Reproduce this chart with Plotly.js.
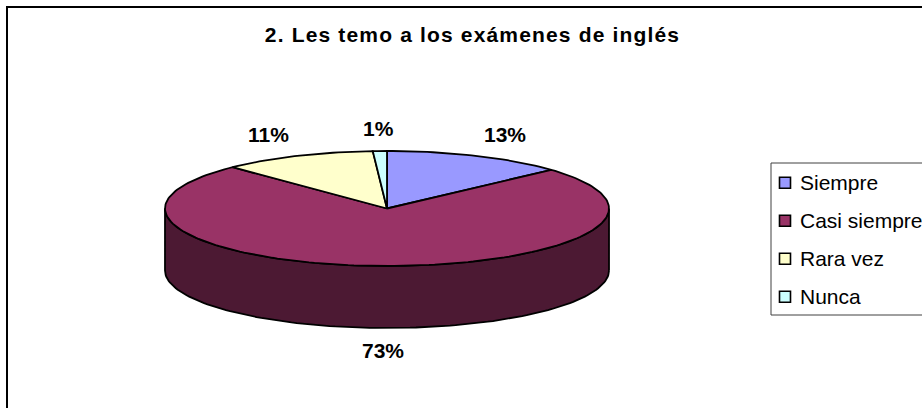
<!DOCTYPE html>
<html><head><meta charset="utf-8">
<script src="https://cdn.plot.ly/plotly-3.0.1.min.js"></script>
<style>html,body{margin:0;padding:0;background:#fff;overflow:hidden}
.gtitle{letter-spacing:1.16px}</style>
</head><body><div id="chart" style="width:922px;height:408px"></div>
<script>
const categories = ["Siempre", "Casi siempre", "Rara vez", "Nunca"];
const values = [13, 73, 11, 1];
const percentLabels = ["13%", "73%", "11%", "1%"];
const topColors = ["#9999FF", "#993366", "#FFFFCC", "#CCFFFF"];
const sideColors = ["#4C4C80", "#4C1933", "#808066", "#668080"];

const W = 922, H = 408;
const cx = 387, cy = 208.5, rx = 222, ry = 57.5, depth = 62;
const total = values.reduce((a, b) => a + b, 0);
const ex = d => cx + rx * Math.sin(d * Math.PI / 180);
const ey = d => cy - ry * Math.cos(d * Math.PI / 180);

function arc(a, b) {
  const n = Math.max(2, Math.ceil((b - a) / 1.5)), out = [];
  for (let i = 0; i <= n; i++) out.push(a + (b - a) * i / n);
  return out;
}
const traces = [];
const common = {type: "scatter", mode: "lines", fill: "toself", hoverinfo: "skip", showlegend: false, line: {color: "#000", width: 1.8}};

let acc = 0;
const spans = values.map(v => { const s = [acc, acc + v / total * 360]; acc = s[1]; return s; });

spans.forEach((s, i) => {
  const a = Math.max(s[0], 90), b = Math.min(s[1], 270);
  if (b <= a) return;
  const deg = arc(a, b);
  const xs = deg.map(ex).concat(deg.slice().reverse().map(ex));
  const ys = deg.map(d => ey(d) + depth).concat(deg.slice().reverse().map(ey));
  xs.push(xs[0]); ys.push(ys[0]);
  traces.push({...common, x: xs, y: ys, fillcolor: sideColors[i]});
});
spans.forEach((s, i) => {
  const deg = arc(s[0], s[1]);
  traces.push({...common, name: categories[i], fillcolor: topColors[i],
    x: [cx].concat(deg.map(ex), [cx]), y: [cy].concat(deg.map(ey), [cy])});
});
const legX = 785, legTop = 182.7, legStep = 38;
traces.push({type: "scatter", mode: "markers", hoverinfo: "skip", showlegend: false,
  x: categories.map(() => legX), y: categories.map((c, i) => legTop + i * legStep),
  marker: {symbol: "square", size: 11, color: topColors, line: {color: "#000", width: 1.6}}});

const labelPos = [[505, 134], [383, 350], [268, 134], [378, 128]];
const annotations = percentLabels.map((t, i) => ({
  text: "<b>" + t + "</b>", x: labelPos[i][0], y: labelPos[i][1], xref: "x", yref: "y",
  showarrow: false, xanchor: "center", yanchor: "middle",
  font: {family: "Liberation Sans, Arial, sans-serif", size: 21, color: "#000"}
})).concat(categories.map((c, i) => ({
  text: c, x: 798, y: legTop + i * legStep, xref: "x", yref: "y", showarrow: false,
  xanchor: "left", yanchor: "middle",
  font: {family: "Liberation Sans, Arial, sans-serif", size: 21, color: "#000"}
})));

const hidden = {visible: false, fixedrange: true};
const layout = {
  width: W, height: H, margin: {l: 0, r: 0, t: 0, b: 0},
  paper_bgcolor: "#fff", plot_bgcolor: "#fff", showlegend: false,
  title: {text: "<b>2. Les temo a los exámenes de inglés</b>", x: 472.5 / W, xanchor: "center", y: 1 - 35 / H, yanchor: "middle",
    font: {family: "Liberation Sans, Arial, sans-serif", size: 21, color: "#000"}},
  xaxis: {...hidden, range: [0, W]},
  yaxis: {...hidden, range: [H, 0]},
  annotations,
  shapes: [
    {type: "rect", xref: "x", yref: "y", x0: 7, y0: 7, x1: W + 10, y1: H + 10, line: {color: "#000", width: 2}, layer: "below"},
    {type: "rect", xref: "x", yref: "y", x0: 771, y0: 163, x1: W + 10, y1: 315, line: {color: "#404040", width: 1}, fillcolor: "#fff", layer: "below"}
  ]
};
Plotly.newPlot("chart", traces, layout, {staticPlot: true, displayModeBar: false});
</script></body></html>
